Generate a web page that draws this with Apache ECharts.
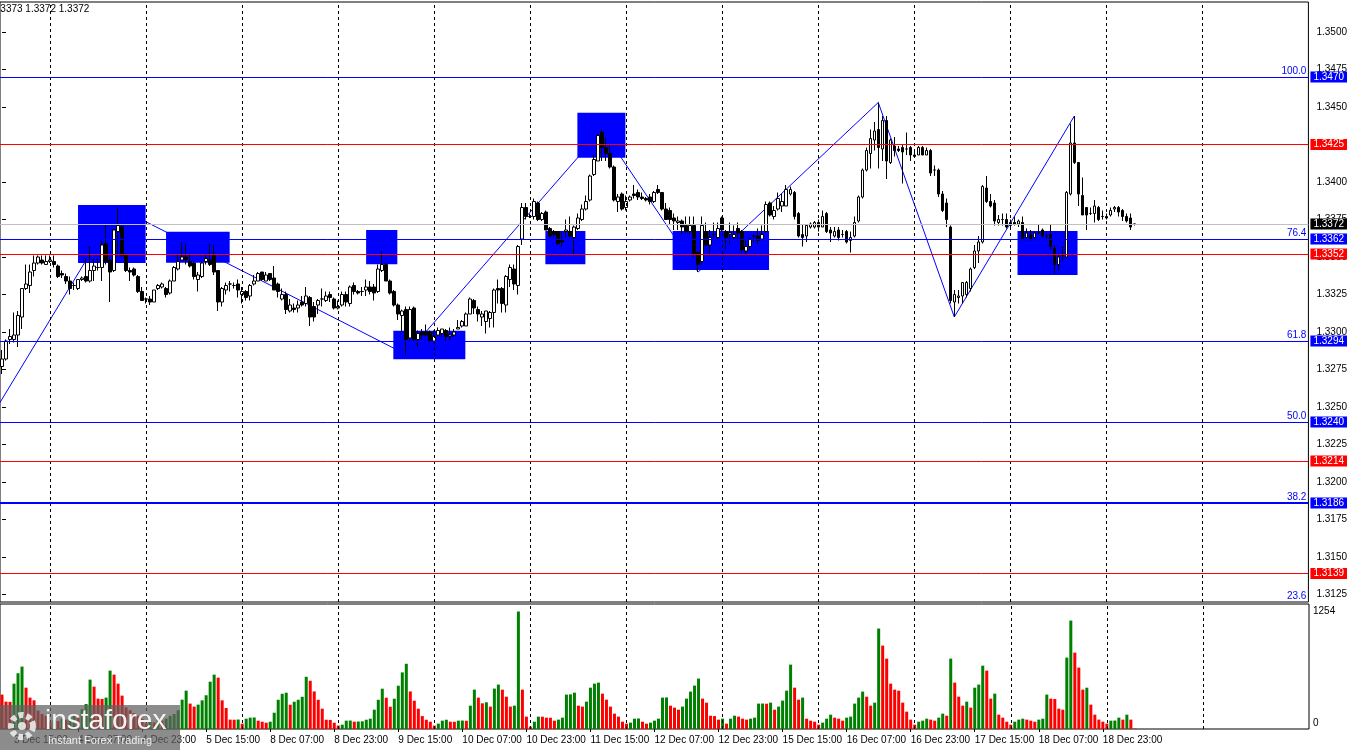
<!DOCTYPE html>
<html><head><meta charset="utf-8">
<script src="https://cdn.jsdelivr.net/npm/echarts@6/dist/echarts.min.js"></script>
<style>html,body{margin:0;padding:0;background:#fff;overflow:hidden}#c{width:1350px;height:750px}</style>
</head><body><div id="c"></div><script>
// ---- data ----
const days = ['3 Dec','4 Dec','5 Dec','8 Dec','9 Dec','10 Dec','11 Dec','12 Dec','15 Dec','16 Dec','17 Dec','18 Dec','19 Dec'];
const firstHour = 12;
const slotCount = 327; // bars + empty future slots on the time axis

const open = [1.3277,1.3282,1.3295,1.3295,1.3298,1.3310,1.3329,1.3331,1.3341,1.3346,
1.3348,1.3345,1.3347,1.3347,1.3344,1.3339,1.3337,1.3334,1.3331,1.3329,
1.3335,1.3337,1.3334,1.3341,1.3343,1.3343,1.3359,1.3348,1.3341,1.3367,
1.3370,1.3351,1.3341,1.3342,1.3337,1.3327,1.3322,1.3322,1.3320,1.3329,
1.3330,1.3329,1.3326,1.3334,1.3342,1.3348,1.3350,1.3347,1.3346,1.3335,
1.3337,1.3347,1.3348,1.3351,1.3341,1.3320,1.3328,1.3332,1.3331,1.3332,
1.3325,1.3327,1.3324,1.3332,1.3334,1.3340,1.3334,1.3339,1.3336,1.3332,
1.3322,1.3325,1.3314,1.3316,1.3316,1.3320,1.3319,1.3323,1.3317,1.3318,
1.3322,1.3321,1.3325,1.3322,1.3316,1.3318,1.3325,1.3319,1.3331,1.3327,
1.3327,1.3328,1.3330,1.3330,1.3327,1.3341,1.3345,1.3334,1.3327,1.3318,
1.3311,1.3315,1.3296,1.3316,1.3295,1.3300,1.3300,1.3300,1.3294,1.3298,
1.3299,1.3301,1.3297,1.3298,1.3302,1.3304,1.3304,1.3312,1.3321,1.3315,
1.3310,1.3307,1.3309,1.3313,1.3329,1.3329,1.3318,1.3335,1.3342,1.3331,
1.3362,1.3383,1.3377,1.3377,1.3386,1.3375,1.3380,1.3369,1.3367,1.3367,
1.3361,1.3367,1.3367,1.3363,1.3369,1.3375,1.3382,1.3388,1.3405,1.3414,
1.3433,1.3423,1.3419,1.3410,1.3387,1.3392,1.3383,1.3388,1.3392,1.3393,
1.3390,1.3389,1.3390,1.3387,1.3395,1.3393,1.3382,1.3381,1.3376,1.3373,
1.3374,1.3371,1.3367,1.3371,1.3353,1.3347,1.3367,1.3358,1.3365,1.3363,
1.3376,1.3367,1.3365,1.3363,1.3369,1.3367,1.3354,1.3357,1.3364,1.3364,
1.3362,1.3367,1.3386,1.3377,1.3382,1.3384,1.3384,1.3392,1.3393,1.3379,
1.3365,1.3364,1.3370,1.3370,1.3373,1.3370,1.3379,1.3368,1.3364,1.3368,
1.3365,1.3367,1.3361,1.3364,1.3374,1.3390,1.3408,1.3419,1.3428,1.3435,
1.3422,1.3441,1.3413,1.3424,1.3422,1.3423,1.3422,1.3423,1.3417,1.3418,
1.3423,1.3418,1.3421,1.3408,1.3408,1.3392,1.3386,1.3370,1.3320,1.3323,
1.3324,1.3325,1.3329,1.3343,1.3354,1.3360,1.3396,1.3387,1.3386,1.3373,
1.3375,1.3375,1.3371,1.3373,1.3372,1.3373,1.3363,1.3365,1.3363,1.3366,
1.3368,1.3364,1.3365,1.3356,1.3345,1.3351,1.3350,1.3392,1.3426,1.3413,
1.3391,1.3383,1.3379,1.3379,1.3383,1.3377,1.3377,1.3378,1.3382,1.3383,
1.3381,1.3377,1.3376,1.3372];
const high = [1.3288,1.3295,1.3302,1.3313,1.3314,1.3329,1.3345,1.3345,1.3351,1.3351,
1.3351,1.3351,1.3351,1.3351,1.3345,1.3341,1.3339,1.3337,1.3333,1.3335,
1.3337,1.3349,1.3357,1.3349,1.3349,1.3361,1.3371,1.3350,1.3369,1.3383,
1.3371,1.3351,1.3343,1.3343,1.3338,1.3330,1.3323,1.3324,1.3328,1.3332,
1.3333,1.3330,1.3335,1.3344,1.3352,1.3360,1.3359,1.3352,1.3347,1.3340,
1.3347,1.3352,1.3359,1.3358,1.3341,1.3330,1.3333,1.3334,1.3333,1.3335,
1.3330,1.3328,1.3332,1.3338,1.3340,1.3340,1.3340,1.3339,1.3344,1.3333,
1.3329,1.3327,1.3322,1.3319,1.3321,1.3324,1.3330,1.3324,1.3320,1.3322,
1.3329,1.3327,1.3327,1.3323,1.3321,1.3327,1.3327,1.3331,1.3333,1.3328,
1.3330,1.3335,1.3334,1.3332,1.3345,1.3354,1.3346,1.3335,1.3328,1.3319,
1.3315,1.3317,1.3317,1.3317,1.3301,1.3302,1.3305,1.3301,1.3301,1.3303,
1.3302,1.3302,1.3303,1.3302,1.3308,1.3308,1.3313,1.3323,1.3322,1.3317,
1.3314,1.3314,1.3314,1.3329,1.3335,1.3330,1.3338,1.3345,1.3345,1.3358,
1.3386,1.3386,1.3379,1.3389,1.3387,1.3380,1.3381,1.3370,1.3368,1.3367,
1.3367,1.3375,1.3377,1.3371,1.3379,1.3385,1.3391,1.3405,1.3418,1.3432,
1.3435,1.3430,1.3424,1.3411,1.3392,1.3393,1.3391,1.3391,1.3398,1.3395,
1.3393,1.3390,1.3392,1.3394,1.3398,1.3393,1.3386,1.3383,1.3379,1.3377,
1.3375,1.3377,1.3377,1.3377,1.3354,1.3377,1.3373,1.3368,1.3373,1.3373,
1.3377,1.3368,1.3373,1.3371,1.3373,1.3368,1.3361,1.3363,1.3365,1.3369,
1.3371,1.3387,1.3387,1.3384,1.3393,1.3392,1.3398,1.3397,1.3394,1.3380,
1.3372,1.3372,1.3373,1.3374,1.3375,1.3381,1.3380,1.3370,1.3370,1.3370,
1.3368,1.3368,1.3367,1.3377,1.3391,1.3409,1.3423,1.3435,1.3440,1.3453,
1.3444,1.3444,1.3429,1.3430,1.3424,1.3425,1.3433,1.3424,1.3420,1.3424,
1.3424,1.3423,1.3422,1.3411,1.3409,1.3394,1.3389,1.3371,1.3328,1.3328,
1.3333,1.3334,1.3343,1.3358,1.3364,1.3398,1.3404,1.3392,1.3388,1.3378,
1.3379,1.3379,1.3375,1.3377,1.3375,1.3377,1.3369,1.3368,1.3367,1.3372,
1.3369,1.3366,1.3372,1.3358,1.3352,1.3357,1.3394,1.3439,1.3444,1.3413,
1.3403,1.3383,1.3383,1.3388,1.3384,1.3381,1.3379,1.3383,1.3384,1.3384,
1.3382,1.3379,1.3379,1.3372];
const low = [1.3272,1.3281,1.3292,1.3293,1.3290,1.3302,1.3328,1.3326,1.3337,1.3345,
1.3345,1.3345,1.3346,1.3343,1.3336,1.3336,1.3332,1.3325,1.3328,1.3328,
1.3334,1.3333,1.3333,1.3334,1.3341,1.3334,1.3345,1.3320,1.3340,1.3352,
1.3350,1.3340,1.3334,1.3337,1.3326,1.3321,1.3319,1.3318,1.3320,1.3328,
1.3329,1.3323,1.3325,1.3334,1.3341,1.3348,1.3345,1.3343,1.3335,1.3327,
1.3336,1.3345,1.3344,1.3338,1.3314,1.3317,1.3325,1.3327,1.3329,1.3323,
1.3319,1.3321,1.3321,1.3331,1.3334,1.3334,1.3334,1.3334,1.3328,1.3323,
1.3321,1.3312,1.3313,1.3313,1.3313,1.3317,1.3317,1.3304,1.3307,1.3312,
1.3317,1.3320,1.3320,1.3315,1.3315,1.3317,1.3317,1.3317,1.3325,1.3325,
1.3324,1.3324,1.3325,1.3321,1.3326,1.3340,1.3334,1.3325,1.3317,1.3308,
1.3300,1.3285,1.3294,1.3294,1.3290,1.3295,1.3297,1.3293,1.3293,1.3297,
1.3297,1.3294,1.3295,1.3297,1.3302,1.3303,1.3304,1.3312,1.3312,1.3307,
1.3304,1.3299,1.3303,1.3303,1.3319,1.3313,1.3313,1.3330,1.3328,1.3325,
1.3358,1.3375,1.3376,1.3375,1.3374,1.3374,1.3368,1.3363,1.3363,1.3358,
1.3357,1.3363,1.3363,1.3352,1.3368,1.3374,1.3381,1.3387,1.3404,1.3414,
1.3414,1.3414,1.3409,1.3387,1.3380,1.3381,1.3381,1.3387,1.3389,1.3388,
1.3388,1.3387,1.3385,1.3386,1.3392,1.3381,1.3375,1.3372,1.3368,1.3368,
1.3365,1.3366,1.3365,1.3350,1.3340,1.3345,1.3357,1.3352,1.3363,1.3362,
1.3367,1.3355,1.3359,1.3362,1.3361,1.3353,1.3352,1.3355,1.3360,1.3359,
1.3361,1.3366,1.3377,1.3375,1.3381,1.3380,1.3384,1.3391,1.3375,1.3363,
1.3357,1.3360,1.3369,1.3369,1.3367,1.3370,1.3366,1.3360,1.3363,1.3361,
1.3363,1.3359,1.3353,1.3363,1.3373,1.3389,1.3407,1.3409,1.3421,1.3409,
1.3414,1.3402,1.3412,1.3417,1.3420,1.3399,1.3418,1.3414,1.3417,1.3418,
1.3418,1.3418,1.3404,1.3404,1.3390,1.3380,1.3370,1.3319,1.3310,1.3319,
1.3319,1.3323,1.3327,1.3342,1.3346,1.3359,1.3386,1.3383,1.3371,1.3371,
1.3371,1.3369,1.3369,1.3371,1.3370,1.3361,1.3361,1.3361,1.3362,1.3365,
1.3363,1.3362,1.3355,1.3339,1.3341,1.3347,1.3350,1.3391,1.3412,1.3384,
1.3378,1.3368,1.3378,1.3373,1.3374,1.3375,1.3375,1.3377,1.3380,1.3377,
1.3374,1.3373,1.3368,1.3371];
const close = [1.3282,1.3294,1.3297,1.3298,1.3311,1.3329,1.3332,1.3340,1.3346,1.3350,
1.3346,1.3347,1.3348,1.3345,1.3337,1.3338,1.3334,1.3329,1.3331,1.3335,
1.3336,1.3334,1.3341,1.3344,1.3343,1.3358,1.3347,1.3340,1.3368,1.3371,
1.3351,1.3341,1.3340,1.3338,1.3327,1.3321,1.3322,1.3320,1.3328,1.3331,
1.3332,1.3325,1.3334,1.3343,1.3347,1.3350,1.3348,1.3344,1.3337,1.3338,
1.3346,1.3349,1.3345,1.3340,1.3320,1.3329,1.3331,1.3332,1.3331,1.3328,
1.3327,1.3323,1.3331,1.3334,1.3339,1.3335,1.3338,1.3335,1.3328,1.3327,
1.3325,1.3315,1.3318,1.3315,1.3318,1.3318,1.3324,1.3310,1.3310,1.3321,
1.3322,1.3324,1.3323,1.3316,1.3317,1.3325,1.3320,1.3330,1.3327,1.3326,
1.3327,1.3330,1.3327,1.3326,1.3342,1.3345,1.3334,1.3326,1.3318,1.3312,
1.3314,1.3295,1.3315,1.3295,1.3299,1.3298,1.3298,1.3294,1.3297,1.3301,
1.3302,1.3297,1.3298,1.3300,1.3303,1.3307,1.3312,1.3322,1.3316,1.3312,
1.3312,1.3314,1.3313,1.3328,1.3328,1.3319,1.3337,1.3343,1.3332,1.3357,
1.3383,1.3377,1.3377,1.3387,1.3375,1.3379,1.3368,1.3364,1.3365,1.3359,
1.3360,1.3368,1.3364,1.3370,1.3376,1.3382,1.3387,1.3404,1.3415,1.3431,
1.3423,1.3419,1.3410,1.3388,1.3390,1.3382,1.3387,1.3390,1.3391,1.3390,
1.3389,1.3388,1.3387,1.3393,1.3393,1.3382,1.3375,1.3375,1.3374,1.3374,
1.3370,1.3367,1.3371,1.3352,1.3345,1.3371,1.3358,1.3363,1.3365,1.3369,
1.3368,1.3363,1.3366,1.3365,1.3366,1.3355,1.3357,1.3362,1.3364,1.3361,
1.3365,1.3385,1.3378,1.3381,1.3389,1.3387,1.3395,1.3395,1.3377,1.3364,
1.3363,1.3371,1.3372,1.3373,1.3370,1.3377,1.3367,1.3366,1.3367,1.3363,
1.3365,1.3360,1.3363,1.3373,1.3390,1.3408,1.3421,1.3429,1.3434,1.3423,
1.3441,1.3414,1.3428,1.3421,1.3421,1.3420,1.3422,1.3418,1.3418,1.3423,
1.3418,1.3421,1.3406,1.3408,1.3392,1.3381,1.3375,1.3321,1.3325,1.3324,
1.3333,1.3333,1.3342,1.3354,1.3360,1.3397,1.3387,1.3384,1.3374,1.3375,
1.3375,1.3370,1.3373,1.3372,1.3374,1.3362,1.3366,1.3362,1.3366,1.3366,
1.3364,1.3364,1.3357,1.3345,1.3350,1.3351,1.3393,1.3426,1.3413,1.3392,
1.3378,1.3378,1.3379,1.3384,1.3375,1.3377,1.3376,1.3381,1.3383,1.3380,
1.3377,1.3374,1.3370,1.3372];
const volume = [367,292,290,484,595,666,441,335,306,196,
160,140,70,95,85,110,100,120,150,140,
210,267,527,452,324,320,335,623,580,484,
356,231,200,170,140,110,60,80,70,95,
90,110,140,160,200,313,409,271,239,260,
306,360,505,580,548,306,224,100,99,101,
57,110,121,123,89,78,67,78,174,312,
376,387,259,291,312,344,557,515,401,312,
217,99,97,67,36,46,89,90,78,80,
82,99,110,206,312,430,334,238,323,462,
604,696,401,302,217,138,99,78,36,57,
89,99,78,77,89,90,88,249,420,335,
274,285,239,431,474,420,345,239,249,1254,
420,132,25,78,132,131,121,120,89,100,
121,367,370,388,249,239,292,441,484,495,
377,313,239,164,132,78,57,68,110,112,
78,57,68,89,110,335,337,249,228,206,
239,324,399,463,538,324,281,142,138,100,
110,57,110,142,132,110,100,110,121,271,
272,270,281,206,239,303,409,687,441,313,
335,110,89,78,46,68,110,153,121,110,
89,121,132,271,335,399,345,249,281,1072,
890,751,484,420,409,281,185,100,46,78,
89,110,100,89,121,164,142,751,495,345,
249,292,228,441,474,676,623,324,377,153,
121,78,46,78,100,110,100,89,78,100,
110,367,324,320,217,206,762,1157,815,655,
420,441,260,153,100,78,57,89,90,121,
100,153,100,4];

const priceTicks = [1.3125,1.3150,1.3175,1.3200,1.3225,1.3250,1.3275,1.3300,1.3325,1.3350,1.3375,1.3400,1.3425,1.3450,1.3475,1.3500];
const volumeTicks = [0, 1254];

// horizontal levels, grouped by kind
const fiboLevels  = [1.3470, 1.3362, 1.3294, 1.3240];
const fibo38Level = [1.3186];
const redLevels   = [1.3425, 1.3352, 1.3214, 1.3139];
const bidLevel    = [1.3372];
// fibonacci ratio labels and their prices
const fiboValues = [1.3470, 1.3362, 1.3294, 1.3240, 1.3186, 1.3120];
const fiboLabels = ['100.0', '76.4', '61.8', '50.0', '38.2', '23.6'];

// zigzag vertices: bar index and price
const zigzagBar   = [-3, 29, 101, 150, 174, 219, 238, 268];
const zigzagPrice = [1.3242, 1.3383, 1.3285, 1.3435, 1.3340, 1.3453, 1.3310, 1.3444];

// rectangles: bar range and price range
const boxFrom   = [19, 41, 91, 97.8, 135.8, 143.8, 167.6, 253.8];
const boxTo     = [35.9, 56.9, 98.8, 115.8, 145.8, 155.8, 191.7, 268.8];
const boxTop    = [1.33847, 1.33669, 1.33680, 1.33009, 1.33673, 1.34462, 1.33673, 1.33673];
const boxBottom = [1.33460, 1.33462, 1.33451, 1.32818, 1.33451, 1.34162, 1.33413, 1.33380];

const headerText = '1.3373 1.3372 1.3372';

// ---- build ----
const FONT = 'Liberation Sans, Arial, sans-serif';
const BLUE = '#0000ff', RED = '#ff0000', GREEN = '#008000';
const barCount = open.length;
const categories = [];
{
  let d = 0, h = firstHour;
  for (let i = 0; i < barCount; i++) {
    categories.push(days[d] + ' ' + String(h).padStart(2, '0') + ':00');
    h++; if (h === 24) { h = 0; d++; }
  }
  while (categories.length < slotCount) categories.push('');
}
const dayStarts = [];
categories.forEach((c, i) => { if (c.endsWith(' 00:00')) dayStarts.push(i); });
for (let k = dayStarts[dayStarts.length - 1] + 24; k < slotCount - 24; k += 24) dayStarts.push(k);

const candleData = open.map((o, i) => [o, close[i], low[i], high[i]]);
const labelEvery = (i) => i < barCount && (i - 3) % 16 === 0;

function levelSeries(values, lineColor, width, tagColor) {
  return {
    type: 'line', xAxisIndex: 2, yAxisIndex: 0, data: [], z: 2, silent: true,
    markLine: {
      silent: true, symbol: ['none', 'none'], animation: false, precision: 6,
      lineStyle: { color: lineColor, width: width, type: 'solid', opacity: 1 },
      label: { show: true, position: 'end', distance: 2, formatter: p => p.value.toFixed(4),
        color: '#fff', backgroundColor: tagColor, padding: [1, 3, 0, 3], fontSize: 10, fontFamily: FONT },
      data: values.map(v => ({ yAxis: v }))
    }
  };
}

const W = 1310;
const option = {
  animation: false,
  backgroundColor: '#fff',
  grid: [
    { left: -1, top: 2, width: W, height: 600, show: true, borderColor: '#000', borderWidth: 1, backgroundColor: 'transparent' },
    { left: -1, top: 604, width: W, height: 125, show: true, borderColor: '#000', borderWidth: 1, backgroundColor: 'transparent' }
  ],
  xAxis: [
    { type: 'category', gridIndex: 0, data: categories, boundaryGap: true, show: false },
    { type: 'category', gridIndex: 1, data: categories, boundaryGap: true,
      axisLine: { show: false },
      axisTick: { show: true, interval: labelEvery, alignWithLabel: true, length: 3, lineStyle: { color: '#000' } },
      axisLabel: { interval: labelEvery, align: 'left', color: '#000', fontSize: 10, fontFamily: FONT, margin: 6 },
      splitLine: { show: false } },
    { type: 'value', gridIndex: 0, min: -0.5, max: slotCount - 0.5, show: false },
    { type: 'value', gridIndex: 1, min: -0.5, max: slotCount - 0.5, show: false }
  ],
  yAxis: [
    { type: 'value', gridIndex: 0, position: 'right', min: 1.312, max: 1.352,
      axisLine: { show: false }, splitLine: { show: false },
      axisTick: { show: true, customValues: priceTicks, length: 4, lineStyle: { color: '#000' } },
      axisLabel: { customValues: priceTicks, showMinLabel: true, showMaxLabel: true, formatter: v => v.toFixed(4), color: '#000', fontSize: 10, fontFamily: FONT, margin: 8 } },
    { type: 'value', gridIndex: 1, position: 'right', min: 0, max: 1334,
      axisLine: { show: false }, splitLine: { show: false },
      axisTick: { show: false },
      axisLabel: { customValues: volumeTicks, color: '#000', fontSize: 10, fontFamily: FONT, margin: 4,
        formatter: v => v === 0 ? '{z|0}' : String(v), rich: { z: { fontSize: 10, fontFamily: FONT, padding: [0, 0, 12, 0] } } } }
  ],
  series: [
    { // day separators, main pane
      type: 'line', xAxisIndex: 2, yAxisIndex: 0, data: [], z: 0, silent: true,
      markLine: { silent: true, symbol: ['none', 'none'], animation: false, label: { show: false }, precision: 6,
        lineStyle: { color: '#000', type: [3, 3], width: 1 },
        data: dayStarts.map(i => ({ xAxis: i })) } },
    { // day separators, volume pane
      type: 'line', xAxisIndex: 3, yAxisIndex: 1, data: [], z: 0, silent: true,
      markLine: { silent: true, symbol: ['none', 'none'], animation: false, label: { show: false }, precision: 6,
        lineStyle: { color: '#000', type: [3, 3], width: 1 },
        data: dayStarts.map(i => ({ xAxis: i })) } },
    { // rectangles
      type: 'line', xAxisIndex: 2, yAxisIndex: 0, data: [], z: 1, silent: true,
      markArea: { silent: true, itemStyle: { color: BLUE, opacity: 1 },
        data: boxFrom.map((f, i) => [{ coord: [f, boxTop[i]] }, { coord: [boxTo[i], boxBottom[i]] }]) } },
    levelSeries(bidLevel, '#c0c0c0', 1, '#000'),
    levelSeries(fiboLevels, BLUE, 1, BLUE),
    levelSeries(fibo38Level, BLUE, 2, BLUE),
    levelSeries(redLevels, RED, 1, RED),
    { // fibonacci ratio texts
      type: 'line', xAxisIndex: 2, yAxisIndex: 0, data: [], z: 2, silent: true,
      markLine: { silent: true, symbol: ['none', 'none'], animation: false, precision: 6,
        lineStyle: { color: 'rgba(0,0,0,0)', width: 1 },
        label: { show: true, position: 'insideEndTop', distance: [2, 1], color: BLUE, fontSize: 10, fontFamily: FONT,
          formatter: p => fiboLabels[p.dataIndex] },
        data: fiboValues.map(v => ({ yAxis: v })) } },
    { // zigzag
      type: 'line', xAxisIndex: 2, yAxisIndex: 0, z: 3, silent: true, showSymbol: false, clip: true,
      lineStyle: { color: BLUE, width: 1 },
      data: zigzagBar.map((b, i) => [b, zigzagPrice[i]]) },
    { // candles
      type: 'candlestick', xAxisIndex: 0, yAxisIndex: 0, z: 4, barWidth: 3, silent: true,
      itemStyle: { color: '#fff', color0: '#000', borderColor: '#000', borderColor0: '#000', borderWidth: 1 },
      data: candleData },
    { // volume
      type: 'bar', xAxisIndex: 1, yAxisIndex: 1, z: 2, barWidth: 3, silent: true,
      itemStyle: { color: p => (p.dataIndex > 0 && volume[p.dataIndex] > volume[p.dataIndex - 1]) ? GREEN : RED },
      data: volume }
  ],
  graphic: [
    { type: 'text', left: -8, top: 4, z: 50, style: { text: headerText, fill: '#000', font: '10px ' + FONT } },
    { type: 'rect', z: 100, shape: { x: 0, y: 705, width: 180, height: 45 }, style: { fill: 'rgba(95,95,95,0.72)' } },
    { type: 'circle', z: 101, shape: { cx: 22, cy: 726, r: 11 }, style: { fill: 'none', stroke: 'rgba(235,235,235,0.9)', lineWidth: 6, lineDash: [5, 3] } },
    { type: 'circle', z: 101, shape: { cx: 22, cy: 726, r: 4 }, style: { fill: 'rgba(235,235,235,0.9)' } },
    { type: 'text', z: 101, left: 45, top: 707, style: { text: 'instaforex', fill: '#f4f4f4', font: '28px ' + FONT } },
    { type: 'text', z: 101, left: 48, top: 735, style: { text: 'Instant Forex Trading', fill: '#eeeeee', font: '11px ' + FONT } }
  ]
};
const chart = echarts.init(document.getElementById('c'), null, { renderer: 'canvas', width: 1350, height: 750 });
chart.setOption(option);
</script></body></html>
